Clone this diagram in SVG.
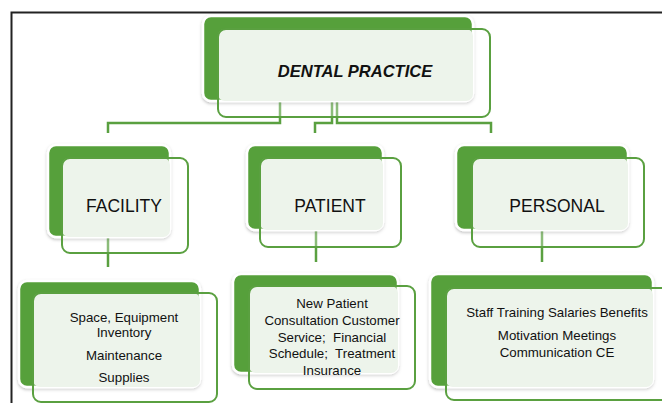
<svg xmlns="http://www.w3.org/2000/svg" width="662" height="403" viewBox="0 0 662 403">
<defs>
<filter id="sh" x="-10%" y="-10%" width="120%" height="125%">
<feDropShadow dx="0" dy="1.5" stdDeviation="1.5" flood-color="#000" flood-opacity="0.25"/>
</filter>
</defs>
<style>
.dark{fill:#56a03a;stroke:#ffffff;stroke-width:2.5;filter:url(#sh)}
.fill{fill:#e5efe2}
.light{fill:#ffffff;fill-opacity:0.3;stroke:#5aa040;stroke-width:2}
.conn{fill:none;stroke:#5aa040;stroke-width:2.5}
.t{font-family:"Liberation Sans",Arial,sans-serif;fill:#111;text-anchor:middle}
.h{font-size:17.5px}
.s{font-size:13.3px}
</style>
<rect width="662" height="403" fill="#fff"/>
<path d="M11.5 403 V12.5 H662" fill="none" stroke="#222" stroke-width="2"/>
<g id="connectors">
<path class="conn" d="M280 101 V123 H108 V133"/>
<path class="conn" d="M332 101 V123 H315 V133"/>
<path class="conn" d="M337 101 V123 H491 V133"/>
<path class="conn" d="M108 237 V267"/>
<path class="conn" d="M316 230 V262"/>
<path class="conn" d="M542 230 V262"/>
</g>
<g id="dental-practice">
<rect class="dark" x="203" y="16" width="270" height="85" rx="8"/>
<rect class="fill" x="218" y="29" width="255" height="72" rx="7"/>
<rect class="light" x="218" y="29" width="272" height="88" rx="8"/>
<text class="t" x="355" y="77" font-size="16.5" font-weight="bold" font-style="italic">DENTAL PRACTICE</text>
</g>
<g id="facility">
<rect class="dark" x="48" y="145" width="122" height="92" rx="8"/>
<rect class="fill" x="62" y="158" width="108" height="79" rx="7"/>
<rect class="light" x="62" y="158" width="126" height="95" rx="8"/>
<text class="t h" x="124" y="212">FACILITY</text>
</g>
<g id="patient">
<rect class="dark" x="247" y="145" width="136" height="85" rx="8"/>
<rect class="fill" x="260" y="158" width="123" height="72" rx="7"/>
<rect class="light" x="260" y="158" width="141" height="89" rx="8"/>
<text class="t h" x="330" y="212">PATIENT</text>
</g>
<g id="personal">
<rect class="dark" x="456" y="145" width="172" height="85" rx="8"/>
<rect class="fill" x="472" y="158" width="156" height="72" rx="7"/>
<rect class="light" x="472" y="158" width="172" height="89" rx="8"/>
<text class="t h" x="557" y="212">PERSONAL</text>
</g>
<g id="facility-details">
<rect class="dark" x="19" y="281" width="181" height="106" rx="8"/>
<rect class="fill" x="33" y="293" width="167" height="94" rx="7"/>
<rect class="light" x="33" y="293" width="184" height="109" rx="8"/>
<text class="t s" x="124" y="322">Space, Equipment</text>
<text class="t s" x="124" y="337">Inventory</text>
<text class="t s" x="124" y="360">Maintenance</text>
<text class="t s" x="124" y="382">Supplies</text>
</g>
<g id="patient-details">
<rect class="dark" x="233" y="274" width="165" height="99" rx="8"/>
<rect class="fill" x="249" y="286" width="149" height="87" rx="7"/>
<rect class="light" x="249" y="286" width="166" height="103" rx="8"/>
<text class="t s" x="332" y="308">New Patient</text>
<text class="t s" x="332" y="325">Consultation Customer</text>
<text class="t s" x="332" y="342" xml:space="preserve">Service;  Financial</text>
<text class="t s" x="332" y="358" xml:space="preserve">Schedule;  Treatment</text>
<text class="t s" x="332" y="375">Insurance</text>
</g>
<g id="personal-details">
<rect class="dark" x="430" y="274" width="223" height="113" rx="8"/>
<rect class="fill" x="446" y="288" width="207" height="99" rx="7"/>
<rect class="light" x="446" y="288" width="226" height="112" rx="8"/>
<text class="t s" x="557" y="317">Staff Training Salaries Benefits</text>
<text class="t s" x="557" y="340">Motivation Meetings</text>
<text class="t s" x="557" y="357">Communication CE</text>
</g>
</svg>
